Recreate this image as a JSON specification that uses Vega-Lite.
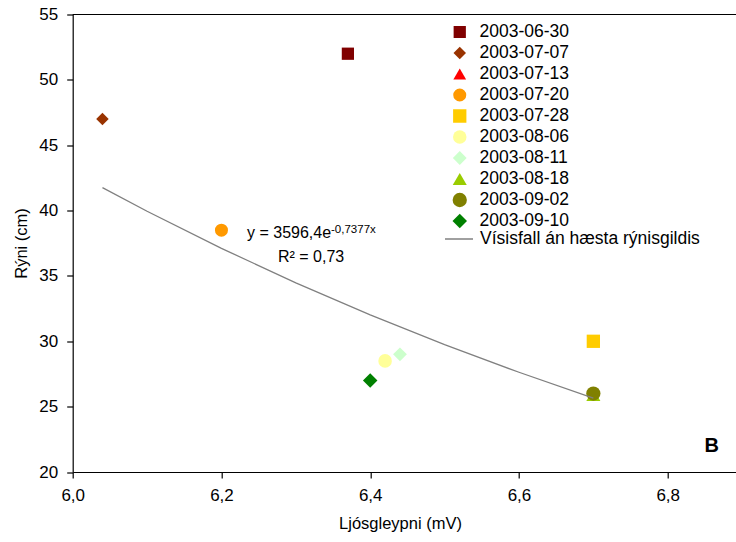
{
  "$schema": "https://vega.github.io/schema/vega-lite/v6.json",
  "width": 663.3,
  "height": 457.5,
  "autosize": {"type": "none"},
  "padding": {"left": 72.7, "top": 14.5, "right": 0, "bottom": 70},
  "background": "white",
  "config": {
    "view": {"stroke": null},
    "font": "Liberation Sans",
    "axis": {
      "grid": false,
      "domainColor": "black",
      "tickColor": "black",
      "domainWidth": 1.2,
      "tickWidth": 1.2,
      "tickSize": 6,
      "labelColor": "black",
      "titleColor": "black",
      "labelFont": "Liberation Sans",
      "titleFont": "Liberation Sans",
      "labelFontSize": 17,
      "titleFontSize": 16.5,
      "titleFontWeight": "normal",
      "labelPadding": 9
    },
    "legend": {
      "labelFont": "Liberation Sans",
      "labelFontSize": 17.5,
      "labelColor": "black",
      "labelLimit": 0,
      "padding": 0,
      "rowPadding": 0,
      "clipHeight": 20.4
    }
  },
  "datasets": {
    "points": [
      {"date": "2003-06-30", "x": 6.37, "y": 52},
      {"date": "2003-07-07", "x": 6.04, "y": 47},
      {"date": "2003-07-20", "x": 6.2, "y": 38.5},
      {"date": "2003-07-28", "x": 6.7, "y": 30},
      {"date": "2003-08-06", "x": 6.42, "y": 28.5},
      {"date": "2003-08-11", "x": 6.44, "y": 29},
      {"date": "2003-08-18", "x": 6.7, "y": 25.9},
      {"date": "2003-09-02", "x": 6.7, "y": 26},
      {"date": "2003-09-10", "x": 6.4, "y": 27}
    ],
    "trend": [
      {"series": "Vísisfall án hæsta rýnisgildis", "x": 6.04, "y": 41.76},
      {"series": "Vísisfall án hæsta rýnisgildis", "x": 6.1, "y": 39.95},
      {"series": "Vísisfall án hæsta rýnisgildis", "x": 6.2, "y": 37.11},
      {"series": "Vísisfall án hæsta rýnisgildis", "x": 6.3, "y": 34.47},
      {"series": "Vísisfall án hæsta rýnisgildis", "x": 6.4, "y": 32.02},
      {"series": "Vísisfall án hæsta rýnisgildis", "x": 6.5, "y": 29.74},
      {"series": "Vísisfall án hæsta rýnisgildis", "x": 6.6, "y": 27.63},
      {"series": "Vísisfall án hæsta rýnisgildis", "x": 6.7, "y": 25.66}
    ],
    "one": [{"item": "annotation"}]
  },
  "layer": [
    {
      "data": {"name": "points"},
      "mark": {"type": "point", "filled": true, "opacity": 1},
      "encoding": {
        "x": {
          "field": "x",
          "type": "quantitative",
          "title": "Ljósgleypni (mV)",
          "scale": {"domain": [6, 6.8918], "nice": false, "zero": false},
          "axis": {
            "values": [6, 6.2, 6.4, 6.6, 6.8],
            "labelExpr": "replace(format(datum.value, '.1f'), '.', ',')",
            "labelFlush": false,
            "titleX": 327.3,
            "titleY": 51,
            "titleBaseline": "middle",
            "titleAnchor": "middle"
          }
        },
        "y": {
          "field": "y",
          "type": "quantitative",
          "title": "Rýni (cm)",
          "scale": {"domain": [20, 55], "nice": false, "zero": false},
          "axis": {
            "values": [20, 25, 30, 35, 40, 45, 50, 55],
            "titleX": -50.7,
            "titleY": 228.5,
            "titleBaseline": "middle",
            "titleAngle": -90
          }
        },
        "color": {
          "field": "date",
          "type": "nominal",
          "scale": {
            "domain": ["2003-06-30", "2003-07-07", "2003-07-13", "2003-07-20", "2003-07-28", "2003-08-06", "2003-08-11", "2003-08-18", "2003-09-02", "2003-09-10"],
            "range": ["#800000", "#993300", "#FF0000", "#FF9900", "#FFCC00", "#FFFF99", "#CCFFCC", "#99CC00", "#808000", "#008000"]
          },
          "legend": {
            "orient": "none",
            "legendX": 378.3,
            "legendY": 7.3,
            "title": null,
            "symbolSize": 130,
            "symbolStrokeWidth": 0,
            "symbolOpacity": 1,
            "labelOffset": 11,
            "clipHeight": 20.4
          }
        },
        "shape": {
          "field": "date",
          "type": "nominal",
          "scale": {
            "domain": ["2003-06-30", "2003-07-07", "2003-07-13", "2003-07-20", "2003-07-28", "2003-08-06", "2003-08-11", "2003-08-18", "2003-09-02", "2003-09-10"],
            "range": ["square", "diamond", "triangle-up", "circle", "square", "circle", "diamond", "triangle-up", "circle", "diamond"]
          },
          "legend": {
            "orient": "none",
            "legendX": 378.3,
            "legendY": 7.3,
            "title": null,
            "symbolSize": 130,
            "symbolStrokeWidth": 0,
            "symbolOpacity": 1,
            "labelOffset": 11,
            "clipHeight": 20.4
          }
        },
        "size": {
          "field": "date",
          "type": "nominal",
          "scale": {
            "domain": ["2003-06-30", "2003-07-07", "2003-07-13", "2003-07-20", "2003-07-28", "2003-08-06", "2003-08-11", "2003-08-18", "2003-09-02", "2003-09-10"],
            "range": [150, 210, 170, 160, 150, 160, 210, 170, 160, 210]
          },
          "legend": null
        }
      }
    },
    {
      "data": {"name": "trend"},
      "mark": {"type": "line", "strokeWidth": 1.3},
      "encoding": {
        "x": {"field": "x", "type": "quantitative"},
        "y": {"field": "y", "type": "quantitative"},
        "stroke": {
          "field": "series",
          "type": "nominal",
          "scale": {"domain": ["Vísisfall án hæsta rýnisgildis"], "range": ["#808080"]},
          "legend": {
            "orient": "none",
            "legendX": 371.3,
            "legendY": 214.3,
            "title": null,
            "symbolType": "stroke",
            "symbolSize": 784,
            "symbolStrokeWidth": 1.5,
            "labelOffset": 6,
            "labelLimit": 0,
            "clipHeight": 20.4
          }
        }
      }
    },
    {
      "data": {"name": "one"},
      "mark": {"type": "text", "align": "left", "baseline": "alphabetic", "fontSize": 16, "font": "Liberation Sans", "color": "black", "text": "y = 3596,4e"},
      "encoding": {
        "x": {"datum": 6.2344, "type": "quantitative"},
        "y": {"datum": 37.9, "type": "quantitative"}
      }
    },
    {
      "data": {"name": "one"},
      "mark": {"type": "text", "align": "left", "baseline": "alphabetic", "fontSize": 11.5, "dx": 84, "font": "Liberation Sans", "color": "black", "text": "-0,7377x"},
      "encoding": {
        "x": {"datum": 6.2344, "type": "quantitative"},
        "y": {"datum": 38.28, "type": "quantitative"}
      }
    },
    {
      "data": {"name": "one"},
      "mark": {"type": "text", "align": "left", "baseline": "alphabetic", "fontSize": 16, "font": "Liberation Sans", "color": "black", "text": "R² = 0,73"},
      "encoding": {
        "x": {"datum": 6.276, "type": "quantitative"},
        "y": {"datum": 36.06, "type": "quantitative"}
      }
    },
    {
      "data": {"name": "one"},
      "mark": {"type": "text", "align": "center", "baseline": "alphabetic", "fontSize": 20, "fontWeight": "bold", "font": "Liberation Sans", "color": "black", "text": "B"},
      "encoding": {
        "x": {"datum": 6.859, "type": "quantitative"},
        "y": {"datum": 21.53, "type": "quantitative"}
      }
    },
    {
      "data": {"name": "one"},
      "mark": {"type": "rule", "color": "black", "strokeWidth": 1.2},
      "encoding": {
        "x": {"datum": 6, "type": "quantitative"},
        "x2": {"datum": 6.8918},
        "y": {"datum": 55, "type": "quantitative"}
      }
    }
  ]
}
